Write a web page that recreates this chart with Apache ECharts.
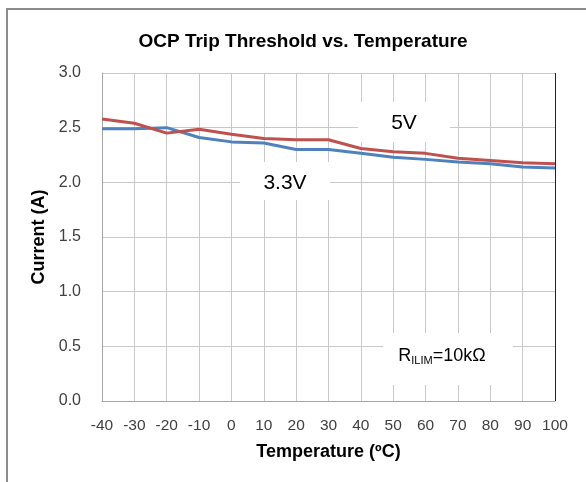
<!DOCTYPE html>
<html><head><meta charset="utf-8">
<script src="https://cdn.jsdelivr.net/npm/echarts@6/dist/echarts.min.js"></script>
<style>html,body{margin:0;padding:0;background:#fff}#c{width:586px;height:482px}</style>
</head><body><div id="c"></div>
<script>
const temps = [-40,-30,-20,-10,0,10,20,30,40,50,60,70,80,90,100];
const v5 = [2.58,2.54,2.45,2.485,2.44,2.40,2.39,2.39,2.31,2.28,2.265,2.22,2.20,2.18,2.17];
const v33 = [2.49,2.49,2.50,2.41,2.37,2.36,2.30,2.30,2.265,2.23,2.21,2.185,2.17,2.14,2.13];
const yTicks = ['0.0','0.5','1.0','1.5','2.0','2.5','3.0'];
const titleText = 'OCP Trip Threshold vs. Temperature';
const xName = 'Temperature (ºC)';
const yName = 'Current (A)';

const chart = echarts.init(document.getElementById('c'), null, {renderer:'canvas'});
const font = 'Liberation Sans, Arial, sans-serif';
chart.setOption({
  animation:false,
  title:{text:titleText,left:298,top:27,textAlign:'center',
    textStyle:{fontFamily:font,fontWeight:'bold',fontSize:19,color:'#000'}},
  grid:{left:102,right:31,top:73,bottom:81},
  xAxis:{type:'value',min:-40,max:100,interval:10,
    name:xName,nameLocation:'middle',nameGap:42,
    nameTextStyle:{fontFamily:font,fontWeight:'bold',fontSize:18,color:'#000'},
    axisLine:{show:true,onZero:false,lineStyle:{color:'#a6a6a6',width:1}},
    axisTick:{show:false},
    axisLabel:{fontFamily:font,fontSize:15.5,color:'#404040',margin:17},
    splitLine:{show:true,lineStyle:{color:'#c8c8c8',width:1}}},
  yAxis:{type:'value',min:0,max:3,interval:0.5,
    name:yName,nameLocation:'middle',nameGap:48,nameRotate:90,
    nameTextStyle:{fontFamily:font,fontWeight:'bold',fontSize:18,color:'#000'},
    axisLine:{show:true,onZero:false,lineStyle:{color:'#a6a6a6',width:1}},
    axisTick:{show:false},
    axisLabel:{fontFamily:font,fontSize:16,color:'#404040',margin:21,
      formatter:(v)=>yTicks[Math.round(v/0.5)]},
    splitLine:{show:true,lineStyle:{color:'#c8c8c8',width:1}}},
  series:[
    {name:'5V',type:'line',data:temps.map((t,i)=>[t,v5[i]]),symbol:'none',
      lineStyle:{color:'#C0504D',width:3},z:3},
    {name:'3.3V',type:'line',data:temps.map((t,i)=>[t,v33[i]]),symbol:'none',
      lineStyle:{color:'#4F81BD',width:3},z:2}
  ],
  graphic:[
    {type:'rect',shape:{x:7,y:9,width:600,height:500},style:{fill:'none',stroke:'#8c8c8c',lineWidth:2},z:-10},
    {type:'line',shape:{x1:555.5,y1:73,x2:555.5,y2:401},style:{stroke:'#222',lineWidth:1},z:50},
    {type:'rect',shape:{x:358,y:102,width:92,height:40},style:{fill:'#fff'},z:40},
    {type:'text',x:404,y:123,style:{text:'5V',font:'21px '+font,fill:'#000',align:'center',verticalAlign:'middle'},z:41},
    {type:'rect',shape:{x:240,y:162,width:90,height:38},style:{fill:'#fff'},z:40},
    {type:'text',x:285,y:183,style:{text:'3.3V',font:'21px '+font,fill:'#000',align:'center',verticalAlign:'middle'},z:41},
    {type:'rect',shape:{x:383,y:333,width:130,height:52},style:{fill:'#fff'},z:40},
    {type:'text',x:442,y:356,style:{
      text:'{r|R}{s|ILIM}{r|=10kΩ}',align:'center',verticalAlign:'middle',
      rich:{r:{fontFamily:font,fontSize:18,color:'#000'},
            s:{fontFamily:font,fontSize:11,color:'#000',padding:[9,0,0,0]}}},z:41}
  ]
});
</script></body></html>
